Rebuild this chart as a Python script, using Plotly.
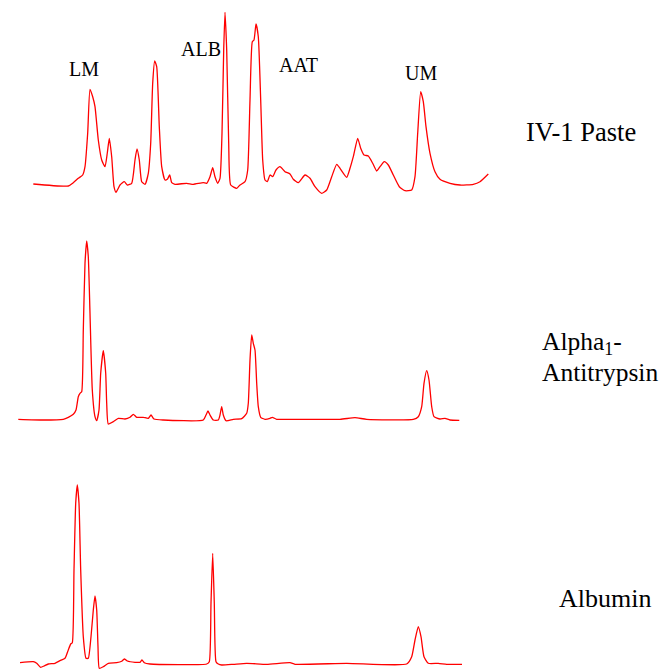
import plotly.graph_objects as go

# ---- Data (retention position, detector signal) ----
paste_time = [33.3, 68.3, 73.3, 78.3, 82.7, 85, 87.7, 90, 92.7, 95, 98.3, 101.7, 105, 107.3, 109.3,
              111.7, 114, 116, 120, 124.3, 127.3, 131.7, 135, 137, 139.3, 141.7, 145, 148.3, 150.7,
              152.7, 154.7, 156.7, 159.3, 161.7, 165, 167.3, 169.7, 171.7, 175, 186.7, 193.3, 203.3,
              206.7, 210, 212.7, 215, 217.7, 220, 222, 223.7, 225, 226.7, 228.7, 230.7, 236.7, 240,
              245, 247.7, 250, 252.3, 254, 256, 258.3, 260.7, 262.7, 265, 267.3, 270, 272.7, 276,
              280, 285, 290, 293.3, 298.3, 305, 310, 315, 321.7, 326.7, 331.7, 336.7, 340, 346.7,
              350, 353.3, 357.7, 360.7, 364, 368.3, 372.7, 376.7, 380, 384.3, 388.3, 393.3, 399.3,
              405, 411.7, 415, 417.7, 420.7, 423.3, 426, 430, 435, 440, 450, 460, 473.3, 480, 488.3]
paste_signal = [2, 0, 3.3, 7.7, 11, 19.3, 53, 96.7, 89.3, 79.3, 46, 26, 19.3, 33, 47.7,
                29.3, -0.7, -6.3, 1, 4.3, 1, 2.7, 26, 37, 26, 4.3, 1.7, 12.7, 42.7,
                102.7, 125, 119.3, 59.3, 19.3, 6, 6.7, 11, 3.3, 1.7, 2.7, 1.7, 3.3,
                2.7, 9.3, 18.3, 9.3, 2.7, 7.7, 52.7, 136, 173.7, 136, 42.7, 1, -2.3, 1,
                4.3, 16, 86, 144.3, 146, 162, 149.3, 86, 26, 6, 4.3, 11, 9.3, 16,
                19.3, 14.3, 12, 6.7, 3.3, 11, 7.7, -0.7, -7.3, -4, 9.3, 21.7, 17.7, 8.7,
                17.7, 29.3, 47.7, 37.7, 31, 30, 22.7, 15, 19.3, 24.3, 21, 11, -0.7,
                -4.7, -4, 9.3, 52.7, 94.3, 84.3, 59.3, 32.7, 14.3, 6.7, 2.7, 1, 1.7, 4.3, 12]

aat_time = [18.3, 43.3, 63.3, 68.3, 73.3, 76, 78.3, 80, 81.7, 83.3, 85, 86.7, 88.3, 90, 92.3,
            95, 96.7, 99, 100.7, 103.3, 105.7, 106.7, 108.3, 113.3, 118.3, 125, 130, 133.3,
            136.7, 143.3, 148.3, 151, 154, 163.3, 203.3, 206, 208, 210, 213.3, 218.3, 220,
            221.7, 223.3, 226, 233.3, 241.7, 246.7, 248.3, 250, 251.7, 253.3, 255, 256.7,
            258.3, 260.7, 265, 270, 272.3, 276.7, 290, 340, 355, 366.7, 413.3, 418.3, 421.7,
            424, 426.7, 429, 431.7, 434, 440, 445, 450, 459.3]
aat_signal = [0.7, 0, 0.7, 2.7, 5.7, 10, 23.3, 26.7, 28.3, 90, 156.7, 179, 163.3, 106.7, 30,
              3.3, -0.7, 10, 46.7, 69.3, 46.7, 16.7, -4, -1.7, 1.7, 1, 2.7, 5.7,
              2.7, 2.7, 1.7, 5, 1, 0, 0, 5, 9, 5, 0, 0, 5,
              13.3, 5, -0.7, 0.7, 1.3, 6.7, 16.7, 60, 85, 76.7, 70, 36.7,
              13.3, 2.7, 0.7, 1.7, 2.7, 0.7, 0.7, 0.7, 2.3, 0.7, 0.7, 3.3, 13.3,
              36.7, 49.3, 40, 13.3, 3.3, 1, 1.7, 0, -0.3]

alb_time = [20, 33.3, 36.7, 40.7, 44, 48.3, 55, 60, 65, 68.3, 70.7, 72.3, 74, 75.7, 77.3, 79,
            80.7, 83.3, 86, 88.3, 91, 93.3, 95, 96.7, 98, 99.3, 103.3, 108.3, 116.7, 121.7,
            124.3, 127.3, 135, 140, 142, 144.3, 150, 206.7, 209.3, 211, 212.7, 214.3, 216,
            218.3, 221.7, 233.3, 246.7, 266.7, 290, 295, 346.7, 406.7, 411.7, 415, 418.3,
            421, 424, 428.3, 438.3, 446.7, 462]
alb_signal = [1.3, 2.3, 0.7, -3.3, -2, 0, 0.7, 3.3, 5.7, 14, 20, 21.3, 94, 160.7, 179, 160.7,
              94, 27.3, 5.7, 5.7, 27.3, 54, 68, 54, 17.3, -4.3, -2.7, 0.7, 1.3, 2.7,
              5, 3, 1.7, 1.7, 4, 1.3, 0, 0, 2.3, 60.7, 110.7, 60.7, 2.3,
              0, -1, -0.3, 0.7, -0.3, 1.3, -0.3, 0.7, 0, 7.3, 24, 37.3,
              27.3, 7.3, 0.7, 0.7, -0.3, -0.3]

peak_labels = ["LM", "ALB", "AAT", "UM"]
sample_names = ["IV-1 Paste", "Alpha<sub>1</sub>-", "Antitrypsin", "Albumin"]

# page is 668x669 but the body has an 8px default margin -> figure is 660x661
OFF = 8
W, H = 668 - OFF, 669 - OFF
RED = "#ff0000"
SERIF = "Liberation Serif"

fig = go.Figure()
line = dict(color=RED, width=1.3, shape="spline", smoothing=0.5)
fig.add_trace(go.Scatter(x=paste_time, y=paste_signal, mode="lines", line=line,
                         xaxis="x", yaxis="y", showlegend=False, hoverinfo="skip"))
fig.add_trace(go.Scatter(x=aat_time, y=aat_signal, mode="lines", line=line,
                         xaxis="x2", yaxis="y2", showlegend=False, hoverinfo="skip"))
fig.add_trace(go.Scatter(x=alb_time, y=alb_signal, mode="lines", line=line,
                         xaxis="x3", yaxis="y3", showlegend=False, hoverinfo="skip"))

def ax(**kw):
    d = dict(visible=False, showgrid=False, zeroline=False, fixedrange=True)
    d.update(kw)
    return d

fig.update_layout(
    width=W, height=H,
    margin=dict(l=0, r=0, t=0, b=0),
    paper_bgcolor="white", plot_bgcolor="white",
    xaxis=ax(domain=[0, 1], range=[OFF, 668], anchor="y"),
    yaxis=ax(domain=[1 - 192 / H, 1], range=[-14, 178], anchor="x"),
    xaxis2=ax(domain=[0, 1], range=[OFF, 668], anchor="y2"),
    yaxis2=ax(domain=[1 - 422 / H, 1 - 217 / H], range=[-10, 195], anchor="x2"),
    xaxis3=ax(domain=[0, 1], range=[OFF, 668], anchor="y3"),
    yaxis3=ax(domain=[0, 1 - 462 / H], range=[-5, 194], anchor="x3"),
)

def px_ann(text, x, y, size, xanchor="center"):
    fig.add_annotation(text=text, x=(x - OFF) / W, y=1 - (y - OFF) / H,
                       xref="paper", yref="paper",
                       xanchor=xanchor, yanchor="middle", showarrow=False,
                       font=dict(family=SERIF, size=size, color="black"))

px_ann(peak_labels[0], 84, 69, 20)
px_ann(peak_labels[1], 201, 49, 20)
px_ann(peak_labels[2], 298, 65, 20)
px_ann(peak_labels[3], 421.5, 73, 20)

px_ann(sample_names[0], 524, 132, 26.5, "left")
px_ann(sample_names[1], 540, 343, 25.5, "left")
px_ann(sample_names[2], 540, 373, 25.5, "left")
px_ann(sample_names[3], 557, 598, 26, "left")

fig.write_html("out.html")
